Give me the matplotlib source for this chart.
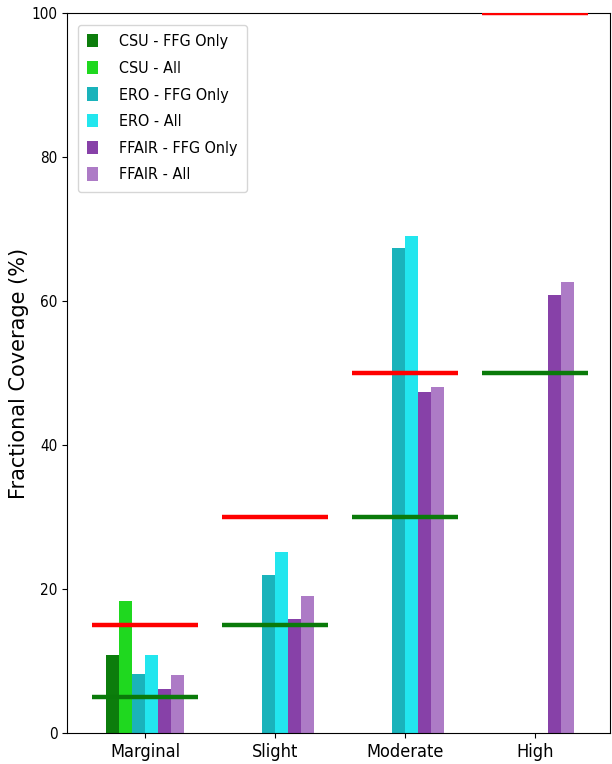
import matplotlib
matplotlib.use("Agg")
import matplotlib.pyplot as plt
import numpy as np

categories = ["Marginal", "Slight", "Moderate", "High"]
series_names = ["CSU - FFG Only", "CSU - All", "ERO - FFG Only", "ERO - All",
                "FFAIR - FFG Only", "FFAIR - All"]
csu_ffg = [10.9, 0, 0, 0]
csu_all = [18.3, 0, 0, 0]
ero_ffg = [8.2, 21.9, 67.3, 0]
ero_all = [10.9, 25.1, 69.0, 0]
ffair_ffg = [6.1, 15.9, 47.3, 60.8]
ffair_all = [8.0, 19.0, 48.0, 62.7]
upper_ref = [15, 30, 50, 100]
lower_ref = [5, 15, 30, 50]

series = [csu_ffg, csu_all, ero_ffg, ero_all, ffair_ffg, ffair_all]
colors = ["#0c7d0c", "#1fd81f", "#1ab3bb", "#22e6ee", "#8741a8", "#ad7bc6"]

fig = plt.figure(figsize=(6.12, 7.64), dpi=100)
ax = fig.add_axes([0.1095, 0.0406, 0.8875, 0.9424])

x = np.arange(len(categories))
w = 0.1
offsets = (np.arange(6) - 2.5) * w
for vals, name, col, off in zip(series, series_names, colors, offsets):
    ax.bar(x + off, vals, width=w, color=col, label=name, zorder=2)

ax.hlines(upper_ref, x - 0.41, x + 0.41, colors="#ff0000", linewidth=3.2, zorder=3)
ax.hlines(lower_ref, x - 0.41, x + 0.41, colors="#0a7a0a", linewidth=3.2, zorder=3)

ax.set_xlim(-0.6, 3.58)
ax.set_ylim(0, 100)
ax.set_xticks(x)
ax.set_xticklabels(categories, fontsize=13, fontstretch="condensed")
ax.set_yticks([0, 20, 40, 60, 80, 100])
for lab in ax.get_yticklabels():
    lab.set_fontsize(11)
    lab.set_fontstretch("condensed")
ax.set_ylabel("Fractional Coverage (%)", fontsize=15, labelpad=2)

leg = ax.legend(loc="upper left", handlelength=0.7, handleheight=0.9,
                borderpad=0.6, labelspacing=0.72, handletextpad=1.3,
                bbox_to_anchor=(0.005, 0.995),
                prop={"size": 11.5, "stretch": "condensed"})

fig.savefig("out.png", dpi=100)
